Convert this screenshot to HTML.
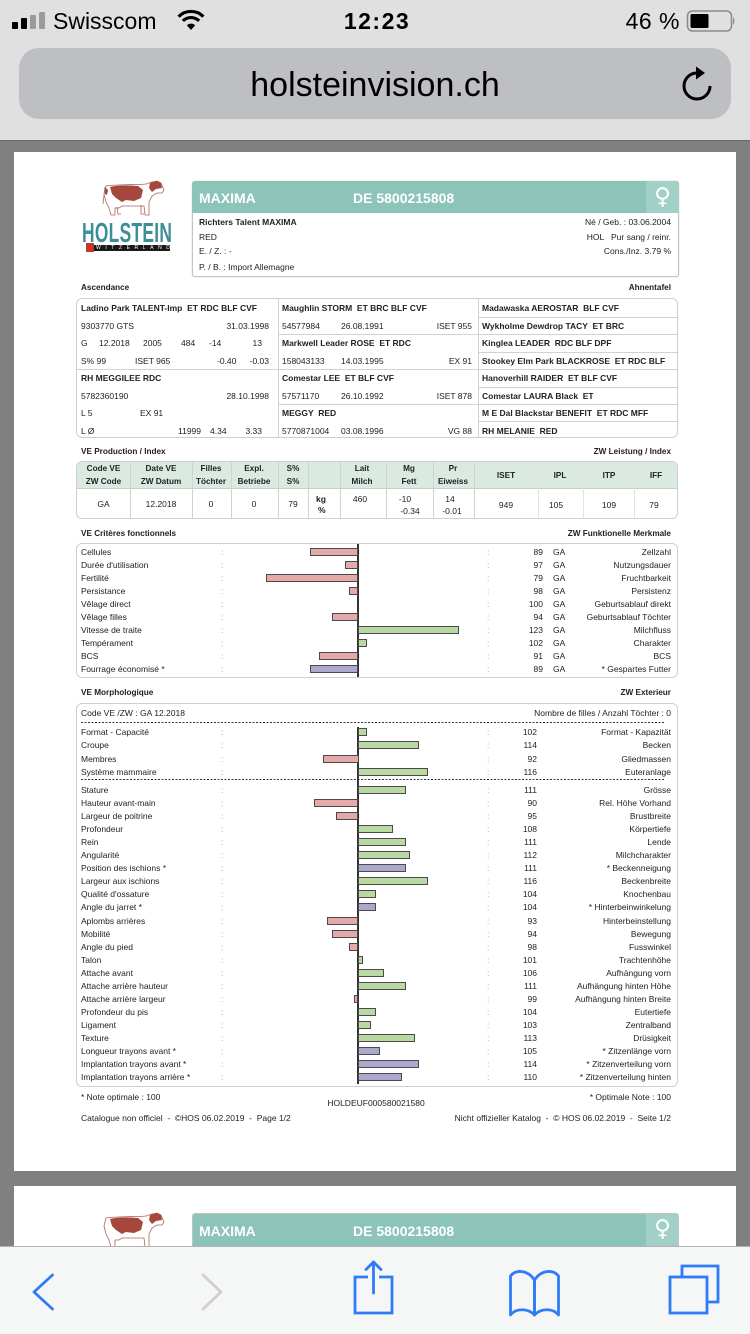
<!DOCTYPE html>
<html><head><meta charset="utf-8">
<style>
*{margin:0;padding:0;box-sizing:border-box}
html,body{width:750px;height:1334px;overflow:hidden;background:#808080;font-family:"Liberation Sans","DejaVu Sans",sans-serif;position:relative}
.a{position:absolute;white-space:nowrap}
.t{position:absolute;white-space:nowrap;font-size:8.5px;line-height:12px;height:12px;color:#222}
.b{font-weight:bold}
.h{position:absolute;white-space:nowrap;font-size:8.2px;line-height:12px;font-weight:bold;color:#222}
.cc{text-align:center;width:80px}
.w{position:absolute;left:0;width:750px;height:12px;font-size:8.5px;line-height:12px;color:#222}
.w span{position:absolute;top:0;white-space:nowrap}
.lb{left:81px}.c1{left:221px;color:#999}.c2{left:487px;color:#999}.v{right:207px}.vm{right:213px}.ga{left:553px}.de{right:79px}
.w .bar{top:2px;height:8px;border:1px solid #4a4a4a}
.rd{background:#e6a9a9}.gr{background:#b9d9a3}.pu{background:#aaa8cd}
.box{position:absolute;border:1.5px solid #cfcfcf;border-radius:6px;background:#fff}
.ln{position:absolute;background:#d2d2d2}
</style></head><body>

<!-- status + url -->
<div class="a" style="left:0;top:0;width:750px;height:140px;background:#e0e0e0"></div>
<div class="a" style="left:0;top:140px;width:750px;height:1px;background:#6a6a6a"></div>
<div class="a" style="left:12px;top:22px;width:6px;height:7px;background:#000;border-radius:1px"></div>
<div class="a" style="left:21px;top:18px;width:6px;height:11px;background:#000;border-radius:1px"></div>
<div class="a" style="left:30px;top:15px;width:6px;height:14px;background:#9a9a9a;border-radius:1px"></div>
<div class="a" style="left:39px;top:12px;width:6px;height:17px;background:#9a9a9a;border-radius:1px"></div>
<div class="a" style="left:53px;top:7px;font-size:23px;line-height:28px;color:#000">Swisscom</div>
<svg class="a" style="left:0;top:0" width="750" height="140">
<path d="M178.6,16.6 A17.5 17.5 0 0 1 203.4,16.6" fill="none" stroke="#000" stroke-width="3.2"/>
<path d="M182.9,20.9 A11.5 11.5 0 0 1 199.1,20.9" fill="none" stroke="#000" stroke-width="3.2"/>
<path d="M191,30 L186.8,25.3 A6 6 0 0 1 195.2,25.3 Z" fill="#000"/>
<rect x="687.5" y="11" width="44" height="20" rx="5" fill="none" stroke="#8a8a8a" stroke-width="1.5"/>
<rect x="690.5" y="14" width="18" height="14" rx="1.5" fill="#000"/>
<path d="M733,17 Q736,21 733,25 Z" fill="#8a8a8a"/>
<rect x="19" y="48" width="712" height="71" rx="20" fill="#bebfc2"/>
<path d="M697 73 A13 13 0 1 0 710 86" fill="none" stroke="#000" stroke-width="3"/>
<path d="M696,66.5 L705,73 L696,79.5 Z" fill="#000"/>
</svg>
<div class="a" style="left:300px;top:7px;width:154px;text-align:center;font-size:23px;line-height:28px;font-weight:bold;letter-spacing:1.5px;color:#000">12:23</div>
<div class="a" style="right:70px;top:7px;font-size:23px;line-height:28px;color:#000;letter-spacing:0.5px">46 %</div>
<div class="a" style="left:0;top:65px;width:750px;text-align:center;font-size:34px;line-height:40px;color:#000">holsteinvision.ch</div>

<!-- page 1 -->
<div class="a" style="left:14px;top:152px;width:722px;height:1019px;background:#fff"></div>

<!-- logo -->
<svg class="a" style="left:100px;top:180px" width="66" height="38" viewBox="0 0 66 38">
<path d="M6,6 C20,4 36,5 46,4 L52,2 L57,1 L61,3 L64,10 L62,13 L57,13 L52,16 L49,22 L49,35 L45,35 L44,26 L36,26 L22,26 L19,28 L15,28 L15,35 L11,35 L9,28 L6,22 L4,14 Z" fill="#fff" stroke="#b0625a" stroke-width="0.8"/>
<path d="M41,25 L41,34 L44,34" fill="none" stroke="#b0625a" stroke-width="0.8"/>
<path d="M17,27 L18,34 L21,34" fill="none" stroke="#b0625a" stroke-width="0.8"/>
<path d="M10,7 C18,5 28,5 38,6 L43,10 L41,18 L34,21 L26,20 L22,22 L16,18 L12,14 Z" fill="#a5473c"/>
<path d="M50,3 L57,1 L61,3 L62,8 L56,9 L52,12 L49,8 Z" fill="#a5473c"/>
<path d="M5,7 L8,10 L7,15 L5,14 Z" fill="#a5473c"/>
<path d="M5,7 L3,24" stroke="#b0625a" stroke-width="0.8"/>
</svg>
<div class="a" style="left:82px;top:219px;font-size:28px;line-height:28px;font-weight:bold;color:#3d8f97;transform:scaleX(0.62);transform-origin:0 0;letter-spacing:0.5px">HOLSTEIN</div>
<div class="a" style="left:87px;top:245px;width:83px;height:6px;background:#1a1a1a"></div>
<div class="a" style="left:86px;top:243px;width:8px;height:9px;background:#c0392b"></div>
<div class="a" style="left:96px;top:245px;font-size:5px;line-height:6px;color:#fff;letter-spacing:4.6px">WITZERLAND</div>

<!-- teal header -->
<div class="a" style="left:192px;top:181px;width:487px;height:96px;border:1px solid #c2c2c2;border-radius:3px;background:#fff;box-shadow:0 0 1px #bbb"></div>
<div class="a" style="left:192px;top:181px;width:487px;height:32px;background:#8dc4b9;border-radius:3px 3px 0 0"></div>
<div class="a" style="left:646px;top:181px;width:33px;height:32px;background:#a2d0c6;border-radius:0 3px 0 0"></div>
<div class="a" style="left:646px;top:183px;width:33px;text-align:center;font-family:'DejaVu Sans',sans-serif;font-size:23px;line-height:28px;color:#fff">♀</div>
<div class="a" style="left:199px;top:190px;font-size:14px;line-height:16px;font-weight:bold;color:#fff">MAXIMA</div>
<div class="a" style="left:353px;top:190px;font-size:14px;line-height:16px;font-weight:bold;color:#fff">DE 5800215808</div>
<div class="t b" style="left:199px;top:216px">Richters Talent MAXIMA</div>
<div class="t" style="left:199px;top:231px">RED</div>
<div class="t" style="left:199px;top:245px">E. / Z. : -</div>
<div class="t" style="left:199px;top:261px">P. / B. : Import Allemagne</div>
<div class="t" style="right:79px;top:216px">Né / Geb. : 03.06.2004</div>
<div class="t" style="right:79px;top:231px;white-space:pre">HOL   Pur sang / reinr.</div>
<div class="t" style="right:79px;top:245px">Cons./Inz. 3.79 %</div>

<!-- Ascendance -->
<div class="h" style="left:81px;top:282px">Ascendance</div>
<div class="h" style="right:79px;top:282px">Ahnentafel</div>
<div class="box" style="left:76px;top:298px;width:602px;height:140px"></div>
<div class="ln" style="left:278px;top:299px;width:1px;height:138px"></div>
<div class="ln" style="left:478px;top:299px;width:1px;height:138px"></div>
<div class="ln" style="left:77px;top:369px;width:201px;height:1px"></div>
<div class="ln" style="left:279px;top:334px;width:199px;height:1px"></div>
<div class="ln" style="left:279px;top:369px;width:199px;height:1px"></div>
<div class="ln" style="left:279px;top:404px;width:199px;height:1px"></div>
<div class="ln" style="left:479px;top:317px;width:198px;height:1px"></div>
<div class="ln" style="left:479px;top:334px;width:198px;height:1px"></div>
<div class="ln" style="left:479px;top:352px;width:198px;height:1px"></div>
<div class="ln" style="left:479px;top:369px;width:198px;height:1px"></div>
<div class="ln" style="left:479px;top:387px;width:198px;height:1px"></div>
<div class="ln" style="left:479px;top:404px;width:198px;height:1px"></div>
<div class="ln" style="left:479px;top:421px;width:198px;height:1px"></div>

<div class="t b" style="left:81px;top:302px;white-space:pre">Ladino Park TALENT-Imp  ET RDC BLF CVF</div>
<div class="t" style="left:81px;top:319.5px">9303770  GTS</div>
<div class="t" style="right:481px;top:319.5px">31.03.1998</div>
<div class="t" style="left:81px;top:337px">G</div>
<div class="t" style="left:99px;top:337px">12.2018</div>
<div class="t" style="left:143px;top:337px">2005</div>
<div class="t" style="left:181px;top:337px">484</div>
<div class="t" style="left:209px;top:337px">-14</div>
<div class="t" style="right:488px;top:337px">13</div>
<div class="t" style="left:81px;top:354.5px">S% 99</div>
<div class="t" style="left:135px;top:354.5px">ISET 965</div>
<div class="t" style="left:217px;top:354.5px">-0.40</div>
<div class="t" style="right:481px;top:354.5px">-0.03</div>
<div class="t b" style="left:81px;top:372px">RH MEGGILEE  RDC</div>
<div class="t" style="left:81px;top:389.5px">5782360190</div>
<div class="t" style="right:481px;top:389.5px">28.10.1998</div>
<div class="t" style="left:81px;top:407px">L 5</div>
<div class="t" style="left:140px;top:407px">EX 91</div>
<div class="t" style="left:81px;top:424.5px">L Ø</div>
<div class="t" style="left:178px;top:424.5px">11999</div>
<div class="t" style="left:210px;top:424.5px">4.34</div>
<div class="t" style="right:488px;top:424.5px">3.33</div>

<div class="t b" style="left:282px;top:302px;white-space:pre">Maughlin STORM  ET BRC BLF CVF</div>
<div class="t" style="left:282px;top:319.5px">54577984</div>
<div class="t" style="left:341px;top:319.5px">26.08.1991</div>
<div class="t" style="right:278px;top:319.5px">ISET 955</div>
<div class="t b" style="left:282px;top:337px;white-space:pre">Markwell Leader ROSE  ET RDC</div>
<div class="t" style="left:282px;top:354.5px">158043133</div>
<div class="t" style="left:341px;top:354.5px">14.03.1995</div>
<div class="t" style="right:278px;top:354.5px">EX 91</div>
<div class="t b" style="left:282px;top:372px;white-space:pre">Comestar LEE  ET BLF CVF</div>
<div class="t" style="left:282px;top:389.5px">57571170</div>
<div class="t" style="left:341px;top:389.5px">26.10.1992</div>
<div class="t" style="right:278px;top:389.5px">ISET 878</div>
<div class="t b" style="left:282px;top:407px;white-space:pre">MEGGY  RED</div>
<div class="t" style="left:282px;top:424.5px">5770871004</div>
<div class="t" style="left:341px;top:424.5px">03.08.1996</div>
<div class="t" style="right:278px;top:424.5px">VG 88</div>

<div class="t b" style="left:482px;top:302px;white-space:pre">Madawaska AEROSTAR  BLF CVF</div>
<div class="t b" style="left:482px;top:319.5px;white-space:pre">Wykholme Dewdrop TACY  ET BRC</div>
<div class="t b" style="left:482px;top:337px;white-space:pre">Kinglea LEADER  RDC BLF DPF</div>
<div class="t b" style="left:482px;top:354.5px;white-space:pre">Stookey Elm Park BLACKROSE  ET RDC BLF</div>
<div class="t b" style="left:482px;top:372px;white-space:pre">Hanoverhill RAIDER  ET BLF CVF</div>
<div class="t b" style="left:482px;top:389.5px;white-space:pre">Comestar LAURA Black  ET</div>
<div class="t b" style="left:482px;top:407px;white-space:pre">M E Dal Blackstar BENEFIT  ET RDC MFF</div>
<div class="t b" style="left:482px;top:424.5px;white-space:pre">RH MELANIE  RED</div>

<!-- Production -->
<div class="h" style="left:81px;top:446px">VE Production / Index</div>
<div class="h" style="right:79px;top:446px">ZW Leistung / Index</div>
<div class="box" style="left:76px;top:461px;width:602px;height:58px;overflow:hidden">
 <div style="position:absolute;left:0;top:0;width:600px;height:27px;background:#dbeae0;border-bottom:1px solid #c6cfc9"></div>
</div>
<div class="ln" style="left:130px;top:462px;width:1px;height:56px"></div>
<div class="ln" style="left:191.5px;top:462px;width:1px;height:56px"></div>
<div class="ln" style="left:230.5px;top:462px;width:1px;height:56px"></div>
<div class="ln" style="left:278px;top:462px;width:1px;height:56px"></div>
<div class="ln" style="left:308px;top:462px;width:1px;height:56px"></div>
<div class="ln" style="left:340px;top:462px;width:1px;height:56px"></div>
<div class="ln" style="left:386px;top:462px;width:1px;height:56px"></div>
<div class="ln" style="left:433px;top:462px;width:1px;height:56px"></div>
<div class="ln" style="left:474px;top:462px;width:1px;height:56px"></div>
<div class="ln" style="left:538px;top:462px;width:1px;height:56px;background:#e2e2e2"></div>
<div class="ln" style="left:583px;top:462px;width:1px;height:56px;background:#e2e2e2"></div>
<div class="ln" style="left:634px;top:462px;width:1px;height:56px;background:#e2e2e2"></div>

<div class="h cc" style="left:63.5px;top:463px">Code VE</div><div class="h cc" style="left:63.5px;top:476px">ZW Code</div>
<div class="h cc" style="left:121px;top:463px">Date VE</div><div class="h cc" style="left:121px;top:476px">ZW Datum</div>
<div class="h cc" style="left:171px;top:463px">Filles</div><div class="h cc" style="left:171px;top:476px">Töchter</div>
<div class="h cc" style="left:214px;top:463px">Expl.</div><div class="h cc" style="left:214px;top:476px">Betriebe</div>
<div class="h cc" style="left:253px;top:463px">S%</div><div class="h cc" style="left:253px;top:476px">S%</div>
<div class="h cc" style="left:322px;top:463px">Lait</div><div class="h cc" style="left:322px;top:476px">Milch</div>
<div class="h cc" style="left:369px;top:463px">Mg</div><div class="h cc" style="left:369px;top:476px">Fett</div>
<div class="h cc" style="left:413px;top:463px">Pr</div><div class="h cc" style="left:413px;top:476px">Eiweiss</div>
<div class="h cc" style="left:466px;top:469.5px">ISET</div>
<div class="h cc" style="left:520px;top:469.5px">IPL</div>
<div class="h cc" style="left:569px;top:469.5px">ITP</div>
<div class="h cc" style="left:616px;top:469.5px">IFF</div>

<div class="t cc" style="left:63.5px;top:498px">GA</div>
<div class="t cc" style="left:121px;top:498px">12.2018</div>
<div class="t cc" style="left:171px;top:498px">0</div>
<div class="t cc" style="left:214px;top:498px">0</div>
<div class="t cc" style="left:253px;top:498px">79</div>
<div class="t b" style="left:316px;top:493px">kg</div>
<div class="t b" style="left:318px;top:504px">%</div>
<div class="t cc" style="left:320px;top:493px">460</div>
<div class="t cc" style="left:365px;top:493px">-10</div>
<div class="t cc" style="left:370px;top:505px">-0.34</div>
<div class="t cc" style="left:410px;top:493px">14</div>
<div class="t cc" style="left:412px;top:505px">-0.01</div>
<div class="t cc" style="left:466px;top:499px">949</div>
<div class="t cc" style="left:516px;top:499px">105</div>
<div class="t cc" style="left:569px;top:499px">109</div>
<div class="t cc" style="left:614px;top:499px">79</div>

<!-- Functional -->
<div class="h" style="left:81px;top:528px">VE Critères fonctionnels</div>
<div class="h" style="right:79px;top:528px">ZW Funktionelle Merkmale</div>
<div class="box" style="left:76px;top:543px;width:602px;height:135px"></div>
<div class="a" style="left:357.3px;top:544px;width:1.5px;height:133px;background:#333"></div>

<div class="w" style="top:546.3px"><span class="lb">Cellules</span><span class="c1">:</span><span class="bar rd" style="left:309.9px;width:48.6px"></span><span class="c2">:</span><span class="v">89</span><span class="ga">GA</span><span class="de">Zellzahl</span></div>
<div class="w" style="top:559.3px"><span class="lb">Durée d'utilisation</span><span class="c1">:</span><span class="bar rd" style="left:344.9px;width:13.6px"></span><span class="c2">:</span><span class="v">97</span><span class="ga">GA</span><span class="de">Nutzungsdauer</span></div>
<div class="w" style="top:572.3px"><span class="lb">Fertilité</span><span class="c1">:</span><span class="bar rd" style="left:266.2px;width:92.3px"></span><span class="c2">:</span><span class="v">79</span><span class="ga">GA</span><span class="de">Fruchtbarkeit</span></div>
<div class="w" style="top:585.3px"><span class="lb">Persistance</span><span class="c1">:</span><span class="bar rd" style="left:349.3px;width:9.2px"></span><span class="c2">:</span><span class="v">98</span><span class="ga">GA</span><span class="de">Persistenz</span></div>
<div class="w" style="top:598.3px"><span class="lb">Vêlage direct</span><span class="c1">:</span><span class="c2">:</span><span class="v">100</span><span class="ga">GA</span><span class="de">Geburtsablauf direkt</span></div>
<div class="w" style="top:611.3px"><span class="lb">Vêlage filles</span><span class="c1">:</span><span class="bar rd" style="left:331.8px;width:26.7px"></span><span class="c2">:</span><span class="v">94</span><span class="ga">GA</span><span class="de">Geburtsablauf Töchter</span></div>
<div class="w" style="top:624.3px"><span class="lb">Vitesse de traite</span><span class="c1">:</span><span class="bar gr" style="left:357.5px;width:101px"></span><span class="c2">:</span><span class="v">123</span><span class="ga">GA</span><span class="de">Milchfluss</span></div>
<div class="w" style="top:637.3px"><span class="lb">Tempérament</span><span class="c1">:</span><span class="bar gr" style="left:357.5px;width:9.2px"></span><span class="c2">:</span><span class="v">102</span><span class="ga">GA</span><span class="de">Charakter</span></div>
<div class="w" style="top:650.3px"><span class="lb">BCS</span><span class="c1">:</span><span class="bar rd" style="left:318.7px;width:39.8px"></span><span class="c2">:</span><span class="v">91</span><span class="ga">GA</span><span class="de">BCS</span></div>
<div class="w" style="top:663.3px"><span class="lb">Fourrage économisé *</span><span class="c1">:</span><span class="bar pu" style="left:309.9px;width:48.6px"></span><span class="c2">:</span><span class="v">89</span><span class="ga">GA</span><span class="de">* Gespartes Futter</span></div>

<!-- Morphology -->
<div class="h" style="left:81px;top:687px">VE Morphologique</div>
<div class="h" style="right:79px;top:687px">ZW Exterieur</div>
<div class="box" style="left:76px;top:703px;width:602px;height:384px"></div>
<div class="t" style="left:81px;top:707px">Code VE /ZW : GA 12.2018</div>
<div class="t" style="right:79px;top:707px">Nombre de filles / Anzahl Töchter : 0</div>
<div class="a" style="left:81px;top:722px;width:584px;height:1px;background:repeating-linear-gradient(90deg,#333 0 2px,transparent 2px 3.5px)"></div>
<div class="a" style="left:81px;top:779px;width:584px;height:1px;background:repeating-linear-gradient(90deg,#333 0 2px,transparent 2px 3.5px)"></div>
<div class="a" style="left:357.3px;top:726.5px;width:1.5px;height:357px;background:#333"></div>

<div class="w" style="top:726.3px"><span class="lb">Format - Capacité</span><span class="c1">:</span><span class="bar gr" style="left:357.5px;width:9.2px"></span><span class="c2">:</span><span class="vm">102</span><span class="de">Format - Kapazität</span></div>
<div class="w" style="top:739.4px"><span class="lb">Croupe</span><span class="c1">:</span><span class="bar gr" style="left:357.5px;width:61.7px"></span><span class="c2">:</span><span class="vm">114</span><span class="de">Becken</span></div>
<div class="w" style="top:752.5px"><span class="lb">Membres</span><span class="c1">:</span><span class="bar rd" style="left:323px;width:35.5px"></span><span class="c2">:</span><span class="vm">92</span><span class="de">Gliedmassen</span></div>
<div class="w" style="top:765.6px"><span class="lb">Système mammaire</span><span class="c1">:</span><span class="bar gr" style="left:357.5px;width:70.4px"></span><span class="c2">:</span><span class="vm">116</span><span class="de">Euteranlage</span></div>

<div class="w" style="top:784px"><span class="lb">Stature</span><span class="c1">:</span><span class="bar gr" style="left:357.5px;width:48.6px"></span><span class="c2">:</span><span class="vm">111</span><span class="de">Grösse</span></div>
<div class="w" style="top:797.05px"><span class="lb">Hauteur avant-main</span><span class="c1">:</span><span class="bar rd" style="left:314.3px;width:44.2px"></span><span class="c2">:</span><span class="vm">90</span><span class="de">Rel. Höhe Vorhand</span></div>
<div class="w" style="top:810.1px"><span class="lb">Largeur de poitrine</span><span class="c1">:</span><span class="bar rd" style="left:336.2px;width:22.3px"></span><span class="c2">:</span><span class="vm">95</span><span class="de">Brustbreite</span></div>
<div class="w" style="top:823.15px"><span class="lb">Profondeur</span><span class="c1">:</span><span class="bar gr" style="left:357.5px;width:35.5px"></span><span class="c2">:</span><span class="vm">108</span><span class="de">Körpertiefe</span></div>
<div class="w" style="top:836.2px"><span class="lb">Rein</span><span class="c1">:</span><span class="bar gr" style="left:357.5px;width:48.6px"></span><span class="c2">:</span><span class="vm">111</span><span class="de">Lende</span></div>
<div class="w" style="top:849.25px"><span class="lb">Angularité</span><span class="c1">:</span><span class="bar gr" style="left:357.5px;width:52.9px"></span><span class="c2">:</span><span class="vm">112</span><span class="de">Milchcharakter</span></div>
<div class="w" style="top:862.3px"><span class="lb">Position des ischions *</span><span class="c1">:</span><span class="bar pu" style="left:357.5px;width:48.6px"></span><span class="c2">:</span><span class="vm">111</span><span class="de">* Beckenneigung</span></div>
<div class="w" style="top:875.35px"><span class="lb">Largeur aux ischions</span><span class="c1">:</span><span class="bar gr" style="left:357.5px;width:70.4px"></span><span class="c2">:</span><span class="vm">116</span><span class="de">Beckenbreite</span></div>
<div class="w" style="top:888.4px"><span class="lb">Qualité d'ossature</span><span class="c1">:</span><span class="bar gr" style="left:357.5px;width:18px"></span><span class="c2">:</span><span class="vm">104</span><span class="de">Knochenbau</span></div>
<div class="w" style="top:901.45px"><span class="lb">Angle du jarret *</span><span class="c1">:</span><span class="bar pu" style="left:357.5px;width:18px"></span><span class="c2">:</span><span class="vm">104</span><span class="de">* Hinterbeinwinkelung</span></div>
<div class="w" style="top:914.5px"><span class="lb">Aplombs arrières</span><span class="c1">:</span><span class="bar rd" style="left:327.4px;width:31.1px"></span><span class="c2">:</span><span class="vm">93</span><span class="de">Hinterbeinstellung</span></div>
<div class="w" style="top:927.55px"><span class="lb">Mobilité</span><span class="c1">:</span><span class="bar rd" style="left:331.8px;width:26.7px"></span><span class="c2">:</span><span class="vm">94</span><span class="de">Bewegung</span></div>
<div class="w" style="top:940.6px"><span class="lb">Angle du pied</span><span class="c1">:</span><span class="bar rd" style="left:349.3px;width:9.2px"></span><span class="c2">:</span><span class="vm">98</span><span class="de">Fusswinkel</span></div>
<div class="w" style="top:953.65px"><span class="lb">Talon</span><span class="c1">:</span><span class="bar gr" style="left:357.5px;width:5px"></span><span class="c2">:</span><span class="vm">101</span><span class="de">Trachtenhöhe</span></div>
<div class="w" style="top:966.7px"><span class="lb">Attache avant</span><span class="c1">:</span><span class="bar gr" style="left:357.5px;width:26.7px"></span><span class="c2">:</span><span class="vm">106</span><span class="de">Aufhängung vorn</span></div>
<div class="w" style="top:979.75px"><span class="lb">Attache arrière hauteur</span><span class="c1">:</span><span class="bar gr" style="left:357.5px;width:48.6px"></span><span class="c2">:</span><span class="vm">111</span><span class="de">Aufhängung hinten Höhe</span></div>
<div class="w" style="top:992.8px"><span class="lb">Attache arrière largeur</span><span class="c1">:</span><span class="bar rd" style="left:353.6px;width:4.9px"></span><span class="c2">:</span><span class="vm">99</span><span class="de">Aufhängung hinten Breite</span></div>
<div class="w" style="top:1005.85px"><span class="lb">Profondeur du pis</span><span class="c1">:</span><span class="bar gr" style="left:357.5px;width:18px"></span><span class="c2">:</span><span class="vm">104</span><span class="de">Eutertiefe</span></div>
<div class="w" style="top:1018.9px"><span class="lb">Ligament</span><span class="c1">:</span><span class="bar gr" style="left:357.5px;width:13.6px"></span><span class="c2">:</span><span class="vm">103</span><span class="de">Zentralband</span></div>
<div class="w" style="top:1031.95px"><span class="lb">Texture</span><span class="c1">:</span><span class="bar gr" style="left:357.5px;width:57.3px"></span><span class="c2">:</span><span class="vm">113</span><span class="de">Drüsigkeit</span></div>
<div class="w" style="top:1045px"><span class="lb">Longueur trayons avant *</span><span class="c1">:</span><span class="bar pu" style="left:357.5px;width:22.3px"></span><span class="c2">:</span><span class="vm">105</span><span class="de">* Zitzenlänge vorn</span></div>
<div class="w" style="top:1058.05px"><span class="lb">Implantation trayons avant *</span><span class="c1">:</span><span class="bar pu" style="left:357.5px;width:61.7px"></span><span class="c2">:</span><span class="vm">114</span><span class="de">* Zitzenverteilung vorn</span></div>
<div class="w" style="top:1071.1px"><span class="lb">Implantation trayons arrière *</span><span class="c1">:</span><span class="bar pu" style="left:357.5px;width:44.2px"></span><span class="c2">:</span><span class="vm">110</span><span class="de">* Zitzenverteilung hinten</span></div>

<!-- footer page 1 -->
<div class="t" style="left:81px;top:1091px">* Note optimale : 100</div>
<div class="t" style="left:276px;top:1097px;width:200px;text-align:center">HOLDEUF000580021580</div>
<div class="t" style="right:79px;top:1091px">* Optimale Note : 100</div>
<div class="t" style="left:81px;top:1112px;white-space:pre">Catalogue non officiel  -  ©HOS 06.02.2019  -  Page 1/2</div>
<div class="t" style="right:79px;top:1112px;white-space:pre">Nicht offizieller Katalog  -  © HOS 06.02.2019  -  Seite 1/2</div>

<!-- page 2 -->
<div class="a" style="left:14px;top:1186px;width:722px;height:148px;background:#fff"></div>
<svg class="a" style="left:100px;top:1212px" width="66" height="38" viewBox="0 0 66 38">
<path d="M6,6 C20,4 36,5 46,4 L52,2 L57,1 L61,3 L64,10 L62,13 L57,13 L52,16 L49,22 L49,35 L45,35 L44,26 L36,26 L22,26 L19,28 L15,28 L15,35 L11,35 L9,28 L6,22 L4,14 Z" fill="#fff" stroke="#b0625a" stroke-width="0.8"/>
<path d="M10,7 C18,5 28,5 38,6 L43,10 L41,18 L34,21 L26,20 L22,22 L16,18 L12,14 Z" fill="#a5473c"/>
<path d="M50,3 L57,1 L61,3 L62,8 L56,9 L52,12 L49,8 Z" fill="#a5473c"/>
</svg>
<div class="a" style="left:192px;top:1213px;width:487px;height:60px;background:#8dc4b9;border:1px solid #c2c2c2;border-radius:3px"></div>
<div class="a" style="left:646px;top:1214px;width:32px;height:40px;background:#a2d0c6"></div>
<div class="a" style="left:646px;top:1215px;width:33px;text-align:center;font-family:'DejaVu Sans',sans-serif;font-size:23px;line-height:28px;color:#fff">♀</div>
<div class="a" style="left:199px;top:1223px;font-size:14px;line-height:16px;font-weight:bold;color:#fff">MAXIMA</div>
<div class="a" style="left:353px;top:1223px;font-size:14px;line-height:16px;font-weight:bold;color:#fff">DE 5800215808</div>

<!-- toolbar -->
<div class="a" style="left:0;top:1246px;width:750px;height:88px;background:#f5f6f6;border-top:1px solid #b2b2b2"></div>
<svg class="a" style="left:0;top:1246px" width="750" height="88">
<g fill="none" stroke="#2f7cf6" stroke-width="2.8" stroke-linecap="round" stroke-linejoin="round">
<path d="M52.5,29 L34,46 L52.5,63"/>
<path d="M368,31 L355,31 L355,67 L392,67 L392,31 L379,31" stroke-linecap="butt" stroke-linejoin="miter"/>
<path d="M373.5,16 L373.5,47"/>
<path d="M366,23.5 L373.5,16 L381,23.5"/>
<path d="M534.5,34 C528,24 516,23 510.5,30 L510.5,69 C516,62 528,62 534.5,69 Z" stroke-linejoin="round"/>
<path d="M534.5,34 C541,24 553,23 558.5,30 L558.5,69 C553,62 541,62 534.5,69 Z" stroke-linejoin="round"/>
<rect x="670" y="31" width="37" height="36" stroke-linejoin="miter"/>
<path d="M682,31 L682,20 L718,20 L718,56 L707,56" stroke-linecap="butt" stroke-linejoin="miter"/>
</g>
<path d="M203,29 L221,46 L203,63" fill="none" stroke="#cfcfcf" stroke-width="2.8" stroke-linecap="round" stroke-linejoin="round"/>
</svg>
</body></html>
